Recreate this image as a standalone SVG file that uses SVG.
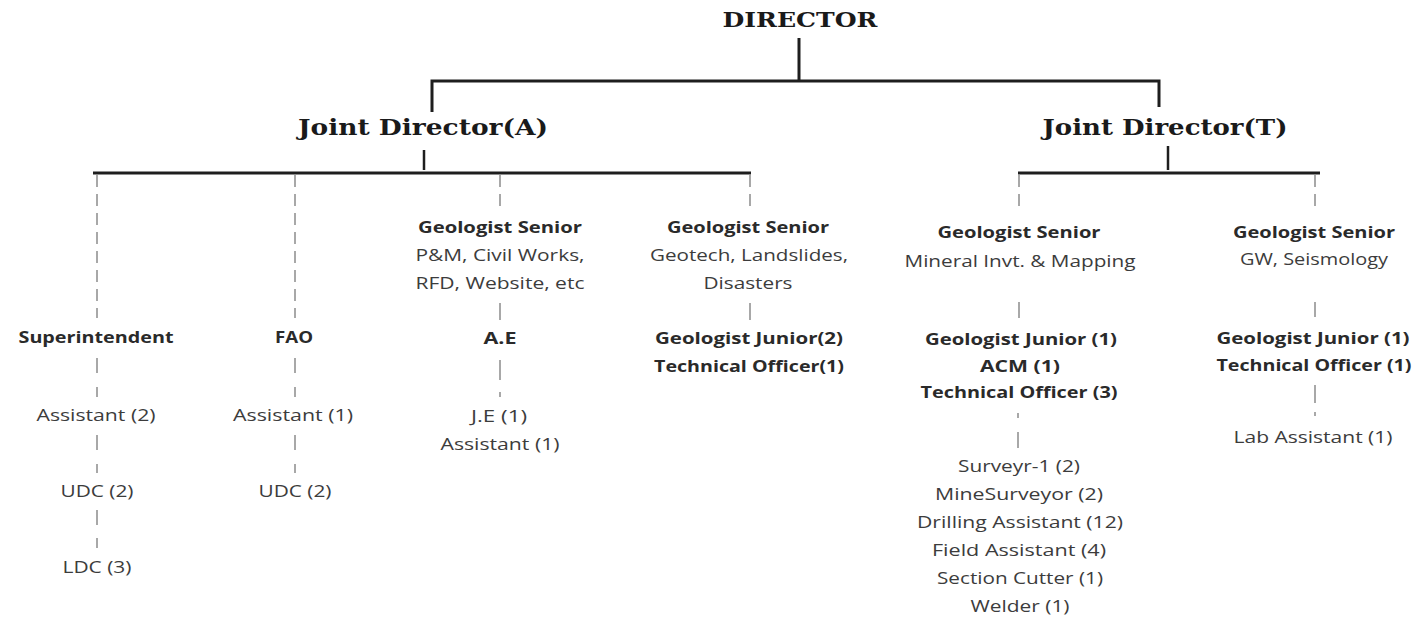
<svg xmlns="http://www.w3.org/2000/svg" width="1417" height="620" viewBox="0 0 1417 620">
  <style>
    .head { font-family: "DejaVu Serif", "Liberation Serif", serif; font-weight: bold; fill: #1a1a1a; text-anchor: middle; }
    .b { font-family: "Open Sans", "Liberation Sans", sans-serif; font-size: 16px; font-weight: bold; fill: #2a2a2a; text-anchor: middle; }
    .r { font-family: "Open Sans", "Liberation Sans", sans-serif; font-size: 16px; fill: #3c3c3c; text-anchor: middle; }
    .solid { stroke: #1e1e1e; stroke-width: 3; fill: none; }
    .tick { stroke: #1e1e1e; stroke-width: 2.5; fill: none; }
    .dash { stroke: #a8a8a8; stroke-width: 2; stroke-dasharray: 12 7; fill: none; }
    .seg { stroke: #a8a8a8; stroke-width: 2; fill: none; }
  </style>
  <rect width="1417" height="620" fill="#ffffff"/>

  <!-- connectors -->
  <g id="connectors">
    <!-- director to joint directors -->
    <line class="solid" x1="799" y1="38" x2="799" y2="81"/>
    <polyline class="solid" points="432,112 432,81 1159,81 1159,107"/>
    <!-- joint director (A) bar -->
    <line class="tick" x1="424" y1="150" x2="424" y2="170"/>
    <line class="solid" x1="93" y1="173" x2="751" y2="173"/>
    <!-- joint director (T) bar -->
    <line class="tick" x1="1168" y1="146" x2="1168" y2="170"/>
    <line class="solid" x1="1018" y1="173" x2="1320" y2="173"/>

    <!-- column: superintendent -->
    <line class="dash" x1="97" y1="175" x2="97" y2="318"/>
    <line class="seg" x1="97" y1="358" x2="97" y2="373"/>
    <line class="seg" x1="97" y1="387" x2="97" y2="397"/>
    <line class="seg" x1="97" y1="435" x2="97" y2="450"/>
    <line class="seg" x1="97" y1="464" x2="97" y2="473"/>
    <line class="seg" x1="97" y1="510" x2="97" y2="525"/>
    <line class="seg" x1="97" y1="538" x2="97" y2="548"/>

    <!-- column: FAO -->
    <line class="dash" x1="295" y1="175" x2="295" y2="318"/>
    <line class="seg" x1="295" y1="358" x2="295" y2="373"/>
    <line class="seg" x1="295" y1="387" x2="295" y2="397"/>
    <line class="seg" x1="295" y1="435" x2="295" y2="450"/>
    <line class="seg" x1="295" y1="464" x2="295" y2="473"/>

    <!-- column: geologist senior P&M -->
    <line class="dash" x1="500" y1="175" x2="500" y2="207"/>
    <line class="seg" x1="500" y1="303" x2="500" y2="320"/>
    <line class="seg" x1="500" y1="360" x2="500" y2="380"/>
    <line class="seg" x1="500" y1="392" x2="500" y2="397"/>

    <!-- column: geologist senior geotech -->
    <line class="dash" x1="750" y1="175" x2="750" y2="207"/>
    <line class="seg" x1="750" y1="303" x2="750" y2="320"/>

    <!-- column: geologist senior mineral -->
    <line class="dash" x1="1019" y1="175" x2="1019" y2="213"/>
    <line class="seg" x1="1019" y1="302" x2="1019" y2="318"/>
    <line class="seg" x1="1018" y1="413" x2="1018" y2="418"/>
    <line class="seg" x1="1018" y1="432" x2="1018" y2="448"/>

    <!-- column: geologist senior GW -->
    <line class="dash" x1="1315" y1="175" x2="1315" y2="212"/>
    <line class="seg" x1="1315" y1="302" x2="1315" y2="317"/>
    <line class="seg" x1="1315" y1="385" x2="1315" y2="403"/>
    <line class="seg" x1="1315" y1="412" x2="1315" y2="416"/>
  </g>

  <!-- top level -->
  <g id="director">
    <text class="head" x="800" y="27" font-size="20" textLength="155" lengthAdjust="spacingAndGlyphs">DIRECTOR</text>
  </g>
  <g id="joint-director-a">
    <text class="head" x="423" y="135" font-size="22" textLength="250" lengthAdjust="spacingAndGlyphs">Joint Director(A)</text>
  </g>
  <g id="joint-director-t">
    <text class="head" x="1165" y="135" font-size="22" textLength="245" lengthAdjust="spacingAndGlyphs">Joint Director(T)</text>
  </g>

  <!-- administration branch -->
  <g id="superintendent">
    <text class="b" x="96" y="343" textLength="155" lengthAdjust="spacingAndGlyphs">Superintendent</text>
  </g>
  <g id="sup-assistant">
    <text class="r" x="96" y="421" textLength="119" lengthAdjust="spacingAndGlyphs">Assistant (2)</text>
  </g>
  <g id="sup-udc">
    <text class="r" x="97" y="497" textLength="73" lengthAdjust="spacingAndGlyphs">UDC (2)</text>
  </g>
  <g id="sup-ldc">
    <text class="r" x="97" y="573" textLength="69" lengthAdjust="spacingAndGlyphs">LDC (3)</text>
  </g>

  <g id="fao">
    <text class="b" x="294" y="343" textLength="38" lengthAdjust="spacingAndGlyphs">FAO</text>
  </g>
  <g id="fao-assistant">
    <text class="r" x="293" y="421" textLength="120" lengthAdjust="spacingAndGlyphs">Assistant (1)</text>
  </g>
  <g id="fao-udc">
    <text class="r" x="295" y="497" textLength="73" lengthAdjust="spacingAndGlyphs">UDC (2)</text>
  </g>

  <g id="gs-pm">
    <text class="b" x="500" y="233" textLength="164" lengthAdjust="spacingAndGlyphs">Geologist Senior</text>
    <text class="r" x="500" y="261" textLength="169" lengthAdjust="spacingAndGlyphs">P&amp;M, Civil Works,</text>
    <text class="r" x="500" y="289" textLength="169" lengthAdjust="spacingAndGlyphs">RFD, Website, etc</text>
  </g>
  <g id="ae">
    <text class="b" x="500" y="344" textLength="33" lengthAdjust="spacingAndGlyphs">A.E</text>
  </g>
  <g id="je-assistant">
    <text class="r" x="499" y="422" textLength="56" lengthAdjust="spacingAndGlyphs">J.E (1)</text>
    <text class="r" x="500" y="450" textLength="119" lengthAdjust="spacingAndGlyphs">Assistant (1)</text>
  </g>

  <g id="gs-geotech">
    <text class="b" x="748" y="233" textLength="162" lengthAdjust="spacingAndGlyphs">Geologist Senior</text>
    <text class="r" x="749" y="261" textLength="198" lengthAdjust="spacingAndGlyphs">Geotech, Landslides,</text>
    <text class="r" x="748" y="289" textLength="89" lengthAdjust="spacingAndGlyphs">Disasters</text>
  </g>
  <g id="geotech-staff">
    <text class="b" x="749" y="344" textLength="188" lengthAdjust="spacingAndGlyphs">Geologist Junior(2)</text>
    <text class="b" x="749" y="372" textLength="190" lengthAdjust="spacingAndGlyphs">Technical Officer(1)</text>
  </g>

  <!-- technical branch -->
  <g id="gs-mineral">
    <text class="b" x="1019" y="238" textLength="163" lengthAdjust="spacingAndGlyphs">Geologist Senior</text>
    <text class="r" x="1020" y="267" textLength="231" lengthAdjust="spacingAndGlyphs">Mineral Invt. &amp; Mapping</text>
  </g>
  <g id="mineral-staff">
    <text class="b" x="1021" y="345" textLength="192" lengthAdjust="spacingAndGlyphs">Geologist Junior (1)</text>
    <text class="b" x="1020" y="372" textLength="80" lengthAdjust="spacingAndGlyphs">ACM (1)</text>
    <text class="b" x="1019" y="398" textLength="197" lengthAdjust="spacingAndGlyphs">Technical Officer (3)</text>
  </g>
  <g id="mineral-field">
    <text class="r" x="1019" y="472" textLength="122" lengthAdjust="spacingAndGlyphs">Surveyr-1 (2)</text>
    <text class="r" x="1019" y="500" textLength="168" lengthAdjust="spacingAndGlyphs">MineSurveyor (2)</text>
    <text class="r" x="1020" y="528" textLength="206" lengthAdjust="spacingAndGlyphs">Drilling Assistant (12)</text>
    <text class="r" x="1019" y="556" textLength="174" lengthAdjust="spacingAndGlyphs">Field Assistant (4)</text>
    <text class="r" x="1020" y="584" textLength="166" lengthAdjust="spacingAndGlyphs">Section Cutter (1)</text>
    <text class="r" x="1020" y="612" textLength="99" lengthAdjust="spacingAndGlyphs">Welder (1)</text>
  </g>

  <g id="gs-gw">
    <text class="b" x="1314" y="238" textLength="162" lengthAdjust="spacingAndGlyphs">Geologist Senior</text>
    <text class="r" x="1314" y="265" textLength="148" lengthAdjust="spacingAndGlyphs">GW, Seismology</text>
  </g>
  <g id="gw-staff">
    <text class="b" x="1313" y="344" textLength="193" lengthAdjust="spacingAndGlyphs">Geologist Junior (1)</text>
    <text class="b" x="1314" y="371" textLength="195" lengthAdjust="spacingAndGlyphs">Technical Officer (1)</text>
  </g>
  <g id="lab-assistant">
    <text class="r" x="1313" y="443" textLength="159" lengthAdjust="spacingAndGlyphs">Lab Assistant (1)</text>
  </g>
</svg>
